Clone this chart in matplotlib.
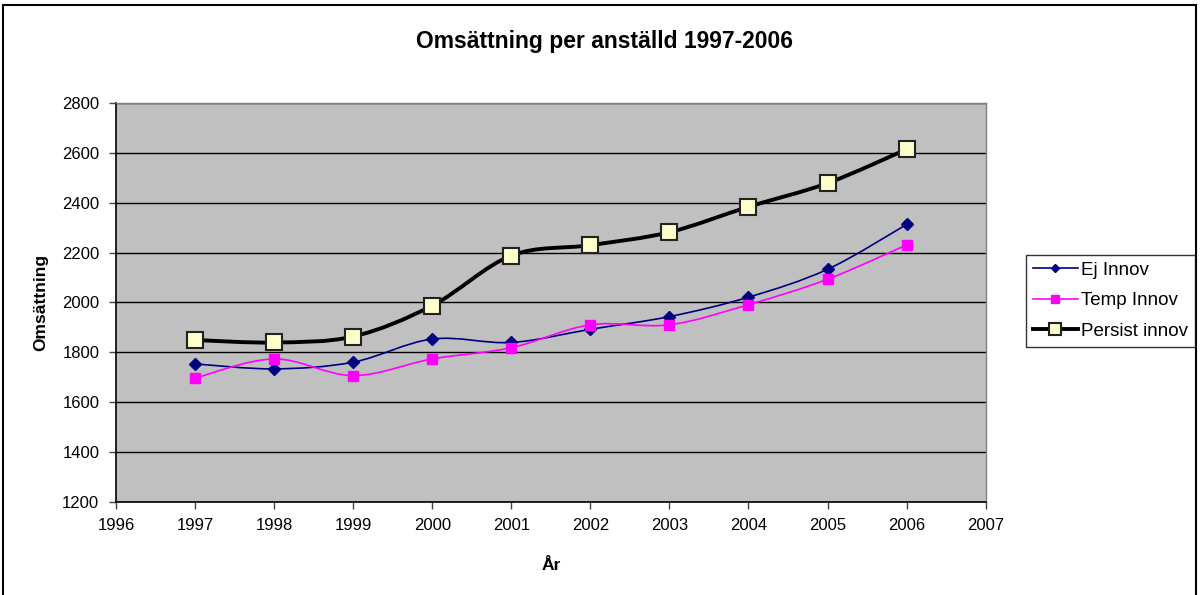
import numpy as np
import matplotlib
matplotlib.use("Agg")
import matplotlib.pyplot as plt
from matplotlib.path import Path
from matplotlib.patches import PathPatch, Rectangle
from matplotlib.lines import Line2D

plt.rcParams['font.family'] = ['Liberation Sans', 'DejaVu Sans']

years = [1997, 1998, 1999, 2000, 2001, 2002, 2003, 2004, 2005, 2006]
ej_innov = [1753, 1733, 1760, 1853, 1839, 1892, 1943, 2021, 2133, 2313]
temp_innov = [1696, 1773, 1706, 1773, 1818, 1910, 1910, 1991, 2093, 2231]
persist_innov = [1849, 1839, 1863, 1987, 2188, 2230, 2282, 2384, 2479, 2615]

x_ticks = list(range(1996, 2008))
y_ticks = list(range(1200, 2801, 200))


def smooth_path(xs, ys):
    """Cubic Bezier path through the points (Catmull-Rom style tangents)."""
    xs = np.asarray(xs, float)
    ys = np.asarray(ys, float)
    n = len(xs)
    verts = [(xs[0], ys[0])]
    codes = [Path.MOVETO]
    for i in range(n - 1):
        i0 = max(i - 1, 0)
        i3 = min(i + 2, n - 1)
        c1 = (xs[i] + (xs[i + 1] - xs[i0]) / 6, ys[i] + (ys[i + 1] - ys[i0]) / 6)
        c2 = (xs[i + 1] - (xs[i3] - xs[i]) / 6, ys[i + 1] - (ys[i3] - ys[i]) / 6)
        verts += [c1, c2, (xs[i + 1], ys[i + 1])]
        codes += [Path.CURVE4] * 3
    return Path(verts, codes)


fig = plt.figure(figsize=(12.02, 5.95), dpi=100)
ax = fig.add_axes([0.0965, 0.157, 0.7235, 0.6695])
ax.set_facecolor('#C0C0C0')

series = [
    ("Ej Innov", ej_innov, dict(color='#000080', lw=1.2, marker='D', ms=6,
                                mfc='#000080', mec='#000080')),
    ("Temp Innov", temp_innov, dict(color='#FF00FF', lw=1.2, marker='s', ms=7,
                                    mfc='#FF00FF', mec='#FF00FF')),
    ("Persist innov", persist_innov, dict(color='black', lw=2.8, marker='s', ms=11,
                                          mfc='#FFFFCC', mec='#222222', mew=1.5)),
]

handles = []
for name, vals, st in series:
    ax.add_patch(PathPatch(smooth_path(years, vals), fill=False,
                           edgecolor=st['color'], lw=st['lw'], zorder=3,
                           capstyle='round', joinstyle='round'))
    ax.plot(years, vals, ls='none', marker=st['marker'], ms=st['ms'],
            mfc=st['mfc'], mec=st['mec'], mew=st.get('mew', 1), zorder=4)
    handles.append(Line2D([], [], color=st['color'], lw=st['lw'],
                          marker=st['marker'], ms=st['ms'] * 0.75,
                          mfc=st['mfc'], mec=st['mec'], mew=st.get('mew', 1)))

ax.set_xlim(1996, 2007)
ax.set_ylim(1200, 2800)
ax.set_xticks(x_ticks)
ax.set_yticks(y_ticks)
ax.tick_params(labelsize=12, length=5, width=1, color='#444444', direction='out', pad=7)
ax.yaxis.grid(True, color='black', lw=1)
ax.set_axisbelow(True)

for side in ['top', 'right']:
    ax.spines[side].set_color('#808080')
    ax.spines[side].set_linewidth(1)
for side in ['left', 'bottom']:
    ax.spines[side].set_color('black')
    ax.spines[side].set_linewidth(1.2)

ax.set_xlabel("År", fontsize=12.5, fontweight='bold', labelpad=18)
ax.set_ylabel("Omsättning", fontsize=12.5, fontweight='bold', labelpad=10)
fig.text(0.503, 0.930, "Omsättning per anställd 1997-2006", ha='center', va='center',
         fontsize=16.5, fontweight='bold')

leg = fig.legend(handles, [s[0] for s in series], loc='upper left',
                 bbox_to_anchor=(1026 / 1202, 1 - 255 / 595), fontsize=13.5,
                 frameon=True, fancybox=False, edgecolor='black', handlelength=2.4,
                 borderpad=0.35, labelspacing=0.72, handletextpad=0.2,
                 borderaxespad=0)
leg.get_frame().set_linewidth(1)

# outer chart frame
fig.patches.append(Rectangle((3 / 1202, -0.02), 1193 / 1202, 1.02 - 5 / 595,
                             transform=fig.transFigure, fill=False,
                             edgecolor='black', lw=1.5))

fig.savefig("out.png", dpi=100)
